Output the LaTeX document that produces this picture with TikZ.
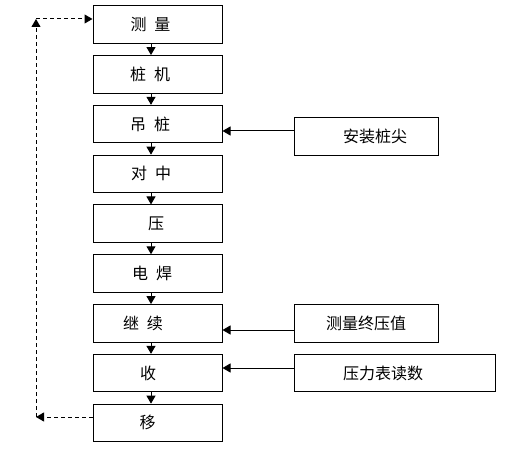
\documentclass[tikz,border=0pt]{standalone}
\usepackage{fontspec}
\newfontfamily\cjk{Noto Sans CJK SC}
\usetikzlibrary{arrows.meta}
\newcommand{\zgap}{\hspace{0.5em}}
\newcommand{\nudge}[2]{\kern#1\relax#2\kern-#1\relax}
\tikzset{
    stepbox/.style={draw, line width=0.75pt, inner sep=0pt,
        minimum width=96.75pt, minimum height=28.125pt,
        font=\cjk\fontsize{12pt}{14pt}\selectfont},
    arr/.style={-{Triangle[width=6.75pt,length=6pt]}, line width=0.75pt},
    dasharr/.style={arr, dash pattern=on 3pt off 2.25pt}
}

\begin{document}
\begin{tikzpicture}[x=0.75pt, y=-0.75pt]
    \useasboundingbox (0,0) rectangle (505,459);
    \foreach \name/\txt/\dx [count=\i from 0] in {
            celiang/测\zgap 量/-5.25pt,
            zhuangji/桩\zgap 机/-5.625pt,
            diaozhuang/吊\zgap 桩/-5.625pt,
            duizhong/对\zgap 中/-4.875pt,
            ya/压/-1.125pt,
            dianhan/电\zgap 焊/-4.125pt,
            jixu/继\zgap 续/-10.875pt,
            shou/收/-7.125pt,
            yi/移/-7.5pt}
        \node[stepbox] (\name) at (157.5, 24.5+49.8*\i) {\nudge{\dx}{\txt}};
    \foreach \a/\b in {celiang/zhuangji, zhuangji/diaozhuang, diaozhuang/duizhong,
            duizhong/ya, ya/dianhan, dianhan/jixu, jixu/shou, shou/yi}
        \draw[arr] ([xshift=-4.875pt]\a.south) -- ([xshift=-4.875pt]\b.north);
    % side boxes
    \node[stepbox, minimum width=108pt] (anzhuang) at (366, 136.5) {\nudge{6.75pt}{安装桩尖}};
    \node[stepbox, minimum width=108pt] (zhongya) at (366, 323.5) {测量终压值};
    \node[stepbox, minimum width=150.75pt] (yalibiao) at (394.5, 373) {\nudge{-8.625pt}{压力表读数}};
    \draw[arr] ([yshift=4.125pt]anzhuang.west) -- ([yshift=4.125pt]anzhuang.west -| diaozhuang.east);
    \draw[arr] ([yshift=-4.875pt]zhongya.west) -- ([yshift=-4.875pt]zhongya.west -| jixu.east);
    \draw[arr] ([yshift=3.75pt]yalibiao.west) -- ([yshift=3.75pt]yalibiao.west -| shou.east);
    % return loop
    \coordinate (lb) at (36, 417);
    \coordinate (lt) at (36, 19);
    \draw[dasharr] (lb -| yi.west) -- (lb);
    \draw[dasharr] (lb) -- (lt);
    \draw[dasharr] (lt) -- (lt -| celiang.west);
\end{tikzpicture}
\end{document}
